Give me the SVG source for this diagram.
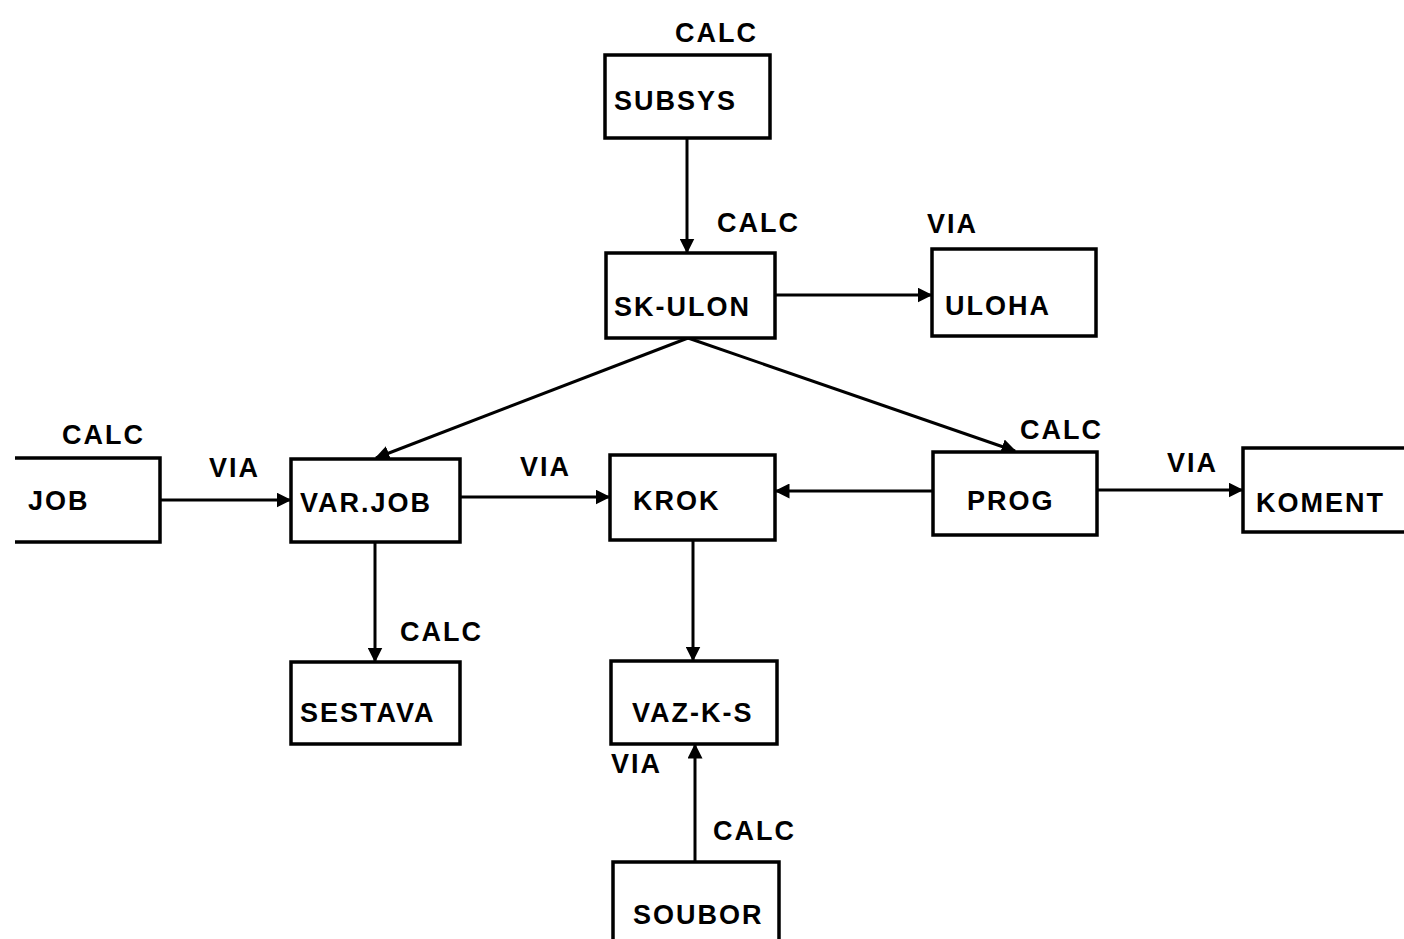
<svg xmlns="http://www.w3.org/2000/svg" width="1404" height="939" viewBox="0 0 1404 939">
<style>
.box{fill:#fff;stroke:#000;stroke-width:3.5}
.t{font-family:"Liberation Sans",Arial,sans-serif;font-weight:bold;font-size:27px;fill:#000;letter-spacing:2px}
.c{stroke:#000;stroke-width:3;fill:none;marker-end:url(#ah)}
</style>
<defs>
<marker id="ah" viewBox="0 0 10 10" refX="9" refY="5" markerWidth="5" markerHeight="5" markerUnits="strokeWidth" orient="auto">
<path d="M0,0 L10,5 L0,10 Z" fill="#000"/>
</marker>
</defs>
<rect width="1404" height="939" fill="#fff"/>
<g id="connectors">
<line class="c" x1="687" y1="138" x2="687" y2="252"/>
<line class="c" x1="775" y1="295" x2="931" y2="295"/>
<line class="c" x1="688" y1="338" x2="376" y2="458"/>
<line class="c" x1="688" y1="338" x2="1015" y2="451"/>
<line class="c" x1="160" y1="500" x2="290" y2="500"/>
<line class="c" x1="460" y1="497" x2="609" y2="497"/>
<line class="c" x1="933" y1="491" x2="776" y2="491"/>
<line class="c" x1="1097" y1="490" x2="1242" y2="490"/>
<line class="c" x1="375" y1="542" x2="375" y2="661"/>
<line class="c" x1="693" y1="540" x2="693" y2="660"/>
<line class="c" x1="695" y1="862" x2="695" y2="745"/>
</g>
<g id="labels">
<text class="t" x="675" y="42">CALC</text>
<text class="t" x="717" y="232">CALC</text>
<text class="t" x="927" y="233">VIA</text>
<text class="t" x="62" y="444">CALC</text>
<text class="t" x="209" y="477">VIA</text>
<text class="t" x="520" y="476">VIA</text>
<text class="t" x="1020" y="439">CALC</text>
<text class="t" x="1167" y="472">VIA</text>
<text class="t" x="400" y="641">CALC</text>
<text class="t" x="611" y="773">VIA</text>
<text class="t" x="713" y="840">CALC</text>
</g>
<g id="SUBSYS"><rect class="box" x="605" y="55" width="165" height="83"/><text class="t" x="614" y="110">SUBSYS</text></g>
<g id="SK-ULON"><rect class="box" x="606" y="253" width="169" height="85"/><text class="t" x="614" y="316">SK-ULON</text></g>
<g id="ULOHA"><rect class="box" x="932" y="249" width="164" height="87"/><text class="t" x="945" y="315">ULOHA</text></g>
<g id="JOB"><path d="M15,458 H160 V542 H15" fill="#fff" stroke="#000" stroke-width="3.5"/><text class="t" x="28" y="510">JOB</text></g>
<g id="VAR.JOB"><rect class="box" x="291" y="459" width="169" height="83"/><text class="t" x="300" y="512">VAR.JOB</text></g>
<g id="KROK"><rect class="box" x="610" y="455" width="165" height="85"/><text class="t" x="633" y="510">KROK</text></g>
<g id="PROG"><rect class="box" x="933" y="452" width="164" height="83"/><text class="t" x="967" y="510">PROG</text></g>
<g id="KOMENT"><path d="M1404,448 H1243 V532 H1404" fill="#fff" stroke="#000" stroke-width="3.5"/><text class="t" x="1256" y="512">KOMENT</text></g>
<g id="SESTAVA"><rect class="box" x="291" y="662" width="169" height="82"/><text class="t" x="300" y="722">SESTAVA</text></g>
<g id="VAZ-K-S"><rect class="box" x="611" y="661" width="166" height="83"/><text class="t" x="632" y="722">VAZ-K-S</text></g>
<g id="SOUBOR"><path d="M613,941 V862 H779 V941" fill="#fff" stroke="#000" stroke-width="3.5"/><text class="t" x="633" y="924">SOUBOR</text></g>
</svg>
